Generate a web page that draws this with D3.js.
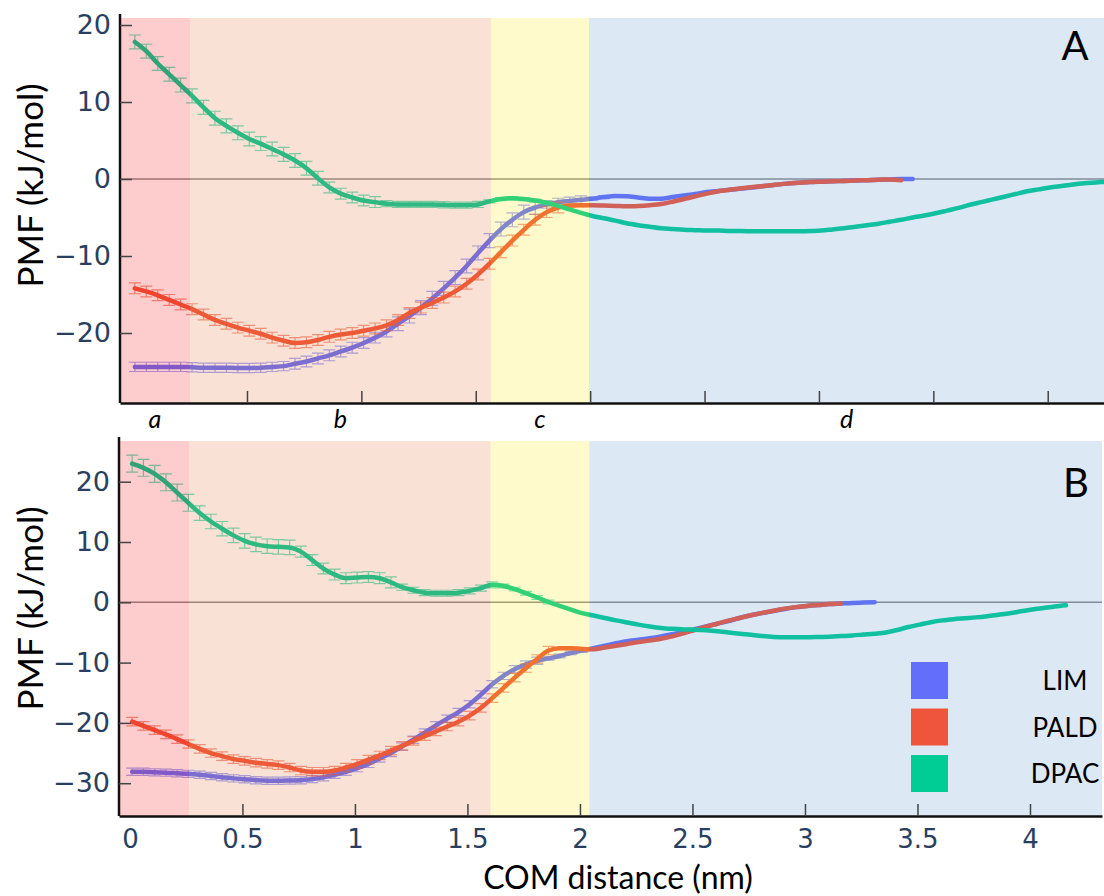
<!DOCTYPE html>
<html>
<head>
<meta charset="utf-8">
<script src="https://cdn.jsdelivr.net/npm/d3@7"></script>
<style>
  body { margin: 0; background: #fff; }
  svg { display: block; }
</style>
</head>
<body>
<svg id="chart" width="1104" height="896"></svg>
<script>
// Sampling grid of the umbrella windows: COM distance = START + i * STEP (nm)
const START = 0.01, STEP = 0.05;

const species = ["LIM", "PALD", "DPAC"];
const speciesColors = ["#636efa", "#ef553b", "#00cc96"];

// ---- Panel A: PMF (kJ/mol) ----
const pmfA_LIM = [-24.4,-24.4,-24.4,-24.4,-24.4,-24.45,-24.5,-24.5,-24.5,-24.55,
  -24.55,-24.5,-24.4,-24.3,-24.0,-23.7,-23.3,-22.9,-22.4,-21.9,
  -21.3,-20.6,-19.8,-18.8,-17.8,-16.7,-15.5,-14.2,-12.8,-11.3,
  -9.6,-8.0,-6.5,-5.3,-4.3,-3.7,-3.3,-3.0,-2.85,-2.7,
  -2.55,-2.35,-2.2,-2.25,-2.4,-2.55,-2.55,-2.35,-2.15,-1.95,
  -1.7,-1.55,-1.4,-1.25,-1.1,-0.9,-0.75,-0.6,-0.5,-0.4,
  -0.35,-0.3,-0.25,-0.2,-0.15,-0.1,-0.05,0.0,0.0];
const errA_LIM = [0.6,0.6,0.6,0.6,0.6,0.6,0.6,0.6,0.6,0.6,0.6,0.6,0.6,0.6,
  0.7,0.7,0.7,0.7,0.7,0.7,0.7,0.7,0.7,
  0.9,0.9,0.9,0.9,0.9,0.9,0.9,0.9,0.9,0.9,0.9,0.9,0.9,
  0.5,0.5,0.5,0.5,0.2,0.2];

const pmfA_PALD = [-14.2,-14.6,-15.1,-15.7,-16.3,-16.9,-17.6,-18.3,-18.8,-19.3,
  -19.7,-20.1,-20.6,-21.0,-21.3,-21.2,-20.9,-20.5,-20.2,-20.0,
  -19.7,-19.4,-19.0,-18.3,-17.4,-16.7,-16.1,-15.4,-14.6,-13.6,
  -12.4,-11.0,-9.5,-8.0,-6.6,-5.3,-4.3,-3.7,-3.45,-3.4,
  -3.4,-3.45,-3.5,-3.55,-3.5,-3.4,-3.25,-2.95,-2.6,-2.25,
  -1.9,-1.6,-1.4,-1.2,-1.05,-0.9,-0.75,-0.6,-0.5,-0.4,
  -0.35,-0.3,-0.25,-0.2,-0.15,-0.1,-0.05,-0.15];
const errA_PALD = [0.7,0.7,0.7,0.7,0.7,0.7,0.7,0.7,0.7,0.7,
  0.7,0.7,0.7,0.7,0.7,0.7,0.7,0.7,0.7,0.7,
  0.7,0.7,0.7,0.7,0.7,0.7,0.7,0.7,0.7,0.7,
  0.7,0.7,0.7,0.7,0.7,0.7,0.7,0.7,0.2,0.2];

const pmfA_DPAC = [17.8,16.6,15.0,13.6,12.2,10.8,9.3,7.9,6.9,6.0,
  5.2,4.6,3.9,3.2,2.4,1.4,0.1,-1.1,-1.9,-2.4,
  -2.8,-3.0,-3.2,-3.3,-3.3,-3.3,-3.3,-3.35,-3.4,-3.4,
  -3.3,-2.9,-2.6,-2.5,-2.6,-2.8,-3.1,-3.5,-3.95,-4.4,
  -4.8,-5.1,-5.4,-5.75,-6.0,-6.2,-6.4,-6.5,-6.6,-6.65,
  -6.7,-6.7,-6.75,-6.75,-6.8,-6.8,-6.8,-6.8,-6.8,-6.75,
  -6.7,-6.55,-6.4,-6.2,-6.0,-5.8,-5.55,-5.3,-5.0,-4.75,
  -4.45,-4.1,-3.75,-3.35,-3.0,-2.65,-2.3,-1.95,-1.6,-1.35,
  -1.1,-0.9,-0.7,-0.55,-0.45,-0.35];
const errA_DPAC = [0.9,0.9,0.9,0.9,0.9,0.9,0.9,0.9,0.9,0.9,0.9,0.9,0.9,0.9,0.9,0.9,0.9,
  0.7,0.7,0.7,0.7,0.7,
  0.4,0.4,0.4,0.4,0.4,0.4,0.4,0.4,0.4,
  0.2,0.2,0.2,0.2,0.2,0.2];

// ---- Panel B: PMF (kJ/mol) ----
const pmfB_LIM = [-28.1,-28.1,-28.2,-28.25,-28.35,-28.45,-28.6,-28.8,-29.0,-29.2,
  -29.35,-29.5,-29.6,-29.6,-29.55,-29.5,-29.3,-29.0,-28.6,-28.1,
  -27.5,-26.8,-25.9,-25.0,-23.9,-22.8,-21.6,-20.4,-19.3,-18.2,
  -16.9,-15.3,-13.6,-12.2,-11.1,-10.3,-9.7,-9.3,-8.9,-8.4,
  -8.0,-7.6,-7.2,-6.8,-6.45,-6.2,-5.95,-5.65,-5.3,-4.9,
  -4.45,-4.0,-3.55,-3.1,-2.6,-2.15,-1.8,-1.45,-1.1,-0.8,
  -0.6,-0.45,-0.3,-0.2,-0.1,-0.05,0.0];
const errB_LIM = [0.6,0.6,0.6,0.6,0.6,0.6,0.6,0.6,0.6,0.6,
  0.6,0.6,0.6,0.6,0.6,0.6,0.6,0.6,0.6,0.6,
  0.6,0.6,0.6,0.6,0.6,0.6,0.6,0.6,0.6,0.6,
  0.6,0.6,0.6,0.6,0.6,0.6,0.6,0.3,0.3,0.3,0.3];

const pmfB_PALD = [-19.8,-20.5,-21.2,-21.9,-22.7,-23.5,-24.3,-25.0,-25.5,-26.0,
  -26.3,-26.6,-26.8,-27.0,-27.4,-27.9,-28.1,-28.1,-27.9,-27.4,
  -26.8,-26.1,-25.4,-24.6,-23.8,-23.0,-22.2,-21.4,-20.6,-19.8,
  -18.8,-17.5,-15.9,-14.2,-12.5,-10.9,-9.4,-8.0,-7.6,-7.6,
  -7.75,-7.8,-7.5,-7.2,-6.9,-6.6,-6.35,-6.05,-5.65,-5.15,
  -4.6,-4.05,-3.55,-3.05,-2.6,-2.15,-1.75,-1.4,-1.05,-0.8,
  -0.6,-0.45,-0.3,-0.2];
const errB_PALD = [0.7,0.7,0.7,0.7,0.7,0.7,0.7,0.7,0.7,0.7,
  0.7,0.7,0.7,0.7,0.7,0.7,0.7,0.7,0.7,0.7,
  0.7,0.7,0.7,0.7,0.7,0.7,0.7,0.7,0.7,0.7,
  0.7,0.7,0.7,0.7,0.7,0.7,0.7,0.7];

const pmfB_DPAC = [23.0,22.3,21.3,19.9,18.2,16.5,14.8,13.4,12.2,11.1,
  10.2,9.6,9.3,9.2,9.1,8.4,7.0,5.6,4.6,4.0,
  4.1,4.2,4.0,3.3,2.5,2.0,1.6,1.5,1.5,1.6,
  1.9,2.35,2.9,2.7,2.2,1.5,0.8,0.05,-0.6,-1.2,
  -1.8,-2.2,-2.6,-3.0,-3.35,-3.7,-4.0,-4.25,-4.4,-4.5,
  -4.55,-4.65,-4.8,-5.0,-5.2,-5.4,-5.6,-5.75,-5.8,-5.8,
  -5.8,-5.75,-5.7,-5.6,-5.5,-5.35,-5.2,-5.0,-4.6,-4.1,
  -3.7,-3.3,-3.0,-2.8,-2.65,-2.5,-2.3,-2.05,-1.8,-1.5,
  -1.2,-0.95,-0.7,-0.5];
const errB_DPAC = [1.4,1.4,1.4,1.4,1.4,1.4,
  1.2,1.2,1.2,1.2,1.2,1.2,1.2,1.2,1.2,
  0.9,0.9,0.9,0.9,0.9,0.9,0.9,0.9,0.9,
  0.5,0.5,0.5,0.5,0.5,0.5,0.5,0.5,0.5,
  0.3,0.3,0.3,0.3,0.3];

// ---- Axes and regions ----
const yTicksA = [20, 10, 0, -10, -20];
const xTicksA = [0.5, 1, 1.5, 2, 2.5, 3, 3.5, 4];
const yTicksB = [20, 10, 0, -10, -20, -30];
const xTicksB = [0, 0.5, 1, 1.5, 2, 2.5, 3, 3.5, 4];
const regionNames = ["a", "b", "c", "d"];
const regionBoundsA = [0.251, 1.566, 1.995];
const regionBoundsB = [0.263, 1.602, 2.042];
const regionFills = ["rgba(245,0,0,0.2)", "rgba(225,110,45,0.2)", "rgba(250,230,0,0.2)", "rgba(85,140,205,0.2)"];

const seriesA = [pmfA_LIM, pmfA_PALD, pmfA_DPAC];
const errorsA = [errA_LIM, errA_PALD, errA_DPAC];
const seriesB = [pmfB_LIM, pmfB_PALD, pmfB_DPAC];
const errorsB = [errB_LIM, errB_PALD, errB_DPAC];

const svg = d3.select("#chart");
const tickFont = "'DejaVu Sans', sans-serif";
const textFont = "Lato, 'Open Sans', sans-serif";
const tickColor = "#2a3f5f";

function drawPanel(p, idx) {
  const x = d3.scaleLinear().domain(p.xDomain).range([p.left, p.right]);
  const y = d3.scaleLinear().domain(p.yDomain).range([p.bottom, p.top]);
  const g = svg.append("g");

  const clipId = "clip" + idx;
  g.append("clipPath").attr("id", clipId)
    .append("rect").attr("x", p.left).attr("y", p.top)
    .attr("width", p.right - p.left).attr("height", p.bottom - p.top);

  const plot = g.append("g").attr("clip-path", `url(#${clipId})`);
  plot.append("rect").attr("x", p.left).attr("y", p.top)
    .attr("width", p.right - p.left).attr("height", p.bottom - p.top)
    .attr("fill", "#fff");

  // zero reference line
  plot.append("line")
    .attr("x1", p.left).attr("x2", p.right)
    .attr("y1", y(0)).attr("y2", y(0))
    .attr("stroke", "#8c8c8c").attr("stroke-width", 1.5);

  const line = d3.line()
    .x((d, i) => x(START + i * STEP))
    .y(d => y(d))
    .curve(d3.curveMonotoneX);

  p.series.forEach((vals, s) => {
    const color = speciesColors[s];
    const errs = p.errors[s];
    // error bars with caps
    const eb = plot.append("g")
      .attr("stroke", color).attr("stroke-width", 1.2).attr("opacity", 0.6)
      .attr("fill", "none");
    errs.forEach((e, i) => {
      const cx = x(START + i * STEP);
      const y1 = y(vals[i] + e), y2 = y(vals[i] - e);
      eb.append("path")
        .attr("d", `M${cx - 6},${y1}H${cx + 6}M${cx},${y1}V${y2}M${cx - 6},${y2}H${cx + 6}`);
    });
    plot.append("path")
      .datum(vals)
      .attr("d", line)
      .attr("fill", "none")
      .attr("stroke", color)
      .attr("stroke-width", 4.5)
      .attr("stroke-linejoin", "round")
      .attr("stroke-linecap", "round");
  });

  // translucent region shading laid over the curves
  const edges = [p.xDomain[0], ...p.bounds, p.xDomain[1]];
  regionFills.forEach((fill, r) => {
    plot.append("rect")
      .attr("x", x(edges[r])).attr("y", p.top)
      .attr("width", x(edges[r + 1]) - x(edges[r]))
      .attr("height", p.bottom - p.top)
      .attr("fill", fill);
  });

  // y axis
  const yAxis = d3.axisLeft(y).tickValues(p.yTicks)
    .tickSizeInner(-12).tickSizeOuter(0).tickPadding(9);
  const ya = g.append("g").attr("transform", `translate(${p.left},0)`).call(yAxis);
  ya.select(".domain").attr("stroke", "#111").attr("stroke-width", 2.5)
    .attr("d", `M0,${p.top - 4}V${p.bottom}`);
  ya.selectAll(".tick line").attr("stroke", "#444").attr("stroke-width", 1.5);
  ya.selectAll(".tick text")
    .attr("fill", tickColor).style("font-family", tickFont).style("font-size", "27px");

  // x axis
  const xAxis = d3.axisBottom(x).tickValues(p.xTicks)
    .tickSizeInner(-12).tickSizeOuter(0).tickPadding(14)
    .tickFormat(p.showXLabels ? (d => String(d)) : "");
  const xa = g.append("g").attr("transform", `translate(0,${p.bottom})`).call(xAxis);
  xa.select(".domain").attr("stroke", "#111").attr("stroke-width", 2.5);
  xa.selectAll(".tick line").attr("stroke", "#444").attr("stroke-width", 1.5)
    .filter(d => d === 0).remove();
  xa.selectAll(".tick text")
    .attr("fill", tickColor).style("font-family", tickFont).style("font-size", "26px");

  // y axis title
  g.append("text")
    .attr("transform", `translate(${p.yTitleX},${(p.top + p.bottom) / 2 + p.yTitleShift}) rotate(-90)`)
    .attr("text-anchor", "middle").attr("dominant-baseline", "central")
    .style("font-family", textFont).style("font-size", "35px").attr("fill", "#000")
    .text("PMF (kJ/mol)");

  // panel letter
  g.append("text")
    .attr("x", p.letterX).attr("y", p.letterY)
    .attr("text-anchor", "middle")
    .style("font-family", textFont).style("font-size", "40px").attr("fill", "#000")
    .text(p.letter);

  return { x, y, g, edges };
}

const panelA = drawPanel({
  letter: "A", left: 120, right: 1104, top: 18, bottom: 403,
  xDomain: [-0.055, 4.246], yDomain: [-29.09, 20.91],
  bounds: regionBoundsA, series: seriesA, errors: errorsA,
  yTicks: yTicksA, xTicks: xTicksA, showXLabels: false,
  yTitleX: 29, yTitleShift: -25, letterX: 1075, letterY: 60
}, 0);

const panelB = drawPanel({
  letter: "B", left: 119, right: 1102, top: 441, bottom: 816,
  xDomain: [-0.0485, 4.32], yDomain: [-35.44, 26.75],
  bounds: regionBoundsB, series: seriesB, errors: errorsB,
  yTicks: yTicksB, xTicks: xTicksB, showXLabels: true,
  yTitleX: 29, yTitleShift: -20, letterX: 1076, letterY: 497
}, 1);

// region letters under panel A
regionNames.forEach((name, r) => {
  const cx = (panelA.x(panelA.edges[r]) + panelA.x(panelA.edges[r + 1])) / 2;
  svg.append("text")
    .attr("x", cx).attr("y", 428)
    .attr("text-anchor", "middle")
    .style("font-family", textFont).style("font-style", "italic").style("font-size", "25px")
    .attr("fill", "#000")
    .text(name);
});

// x axis title
svg.append("text")
  .attr("x", 618).attr("y", 889)
  .attr("text-anchor", "middle")
  .style("font-family", textFont).style("font-size", "32px").attr("fill", "#000")
  .text("COM distance (nm)");

// legend
const legend = svg.append("g").attr("transform", "translate(911,662)");
species.forEach((name, s) => {
  const row = legend.append("g").attr("transform", `translate(0,${s * 46.5})`);
  row.append("rect").attr("width", 37).attr("height", 37).attr("fill", speciesColors[s]);
  row.append("text")
    .attr("x", 154).attr("y", 28)
    .attr("text-anchor", "middle")
    .style("font-family", textFont).style("font-size", "26px").attr("fill", "#000")
    .text(name);
});
</script>
</body>
</html>
